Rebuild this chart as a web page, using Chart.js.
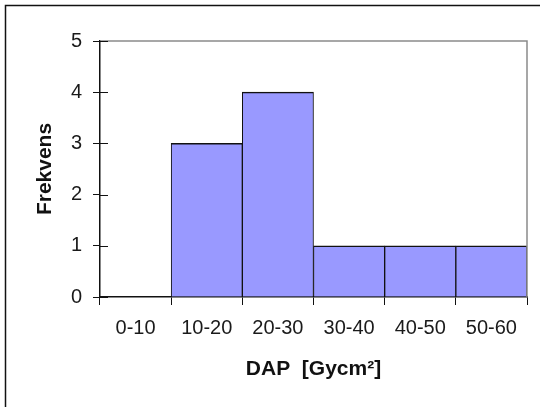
<!DOCTYPE html>
<html>
<head>
<meta charset="utf-8">
<script src="https://cdn.jsdelivr.net/npm/chart.js@4/dist/chart.umd.min.js"></script>
<style>
  html, body { margin: 0; padding: 0; background: #fff; }
  #wrap { width: 540px; height: 407px; position: relative; }
</style>
</head>
<body>
<div id="wrap"><canvas id="chart"></canvas></div>
<script>
// histogram data
const categories = ['0-10', '10-20', '20-30', '30-40', '40-50', '50-60'];
const counts = [0, 3, 4, 1, 1, 1];
const yMin = 0, yMax = 5, yStep = 1;

const xTitle = 'DAP  [Gycm\u00B2]';
const yTitle = 'Frekvens';

const tickFont = { family: 'Liberation Sans, Arial, sans-serif', size: 20 };
const titleFont = { family: 'Liberation Sans, Arial, sans-serif', size: 21, weight: 'bold' };

// frame around the whole picture + grey plot border + inner y ticks
const framePlugin = {
  id: 'frame',
  beforeDraw(chart) {
    const ctx = chart.ctx;
    ctx.save();
    ctx.strokeStyle = '#111';
    ctx.lineWidth = 1.5;
    ctx.beginPath();
    ctx.moveTo(5.5, 420);
    ctx.lineTo(5.5, 5.5);
    ctx.lineTo(560, 5.5);
    ctx.stroke();
    ctx.restore();
  },
  afterDatasetsDraw(chart) {
    const { ctx, chartArea: a } = chart;
    ctx.save();
    ctx.strokeStyle = '#8a8a8a';
    ctx.lineWidth = 1.5;
    ctx.beginPath();
    ctx.moveTo(a.left, a.top);
    ctx.lineTo(a.right, a.top);
    ctx.lineTo(a.right, a.bottom);
    ctx.stroke();

    const y = chart.scales.y;
    ctx.strokeStyle = '#111';
    ctx.lineWidth = 1;
    y.ticks.forEach(t => {
      const py = Math.round(y.getPixelForValue(t.value)) + 0.5;
      ctx.beginPath();
      ctx.moveTo(a.left, py);
      ctx.lineTo(a.left + 8, py);
      ctx.stroke();
    });
    ctx.restore();
  }
};

new Chart(document.getElementById('chart'), {
  type: 'bar',
  data: {
    labels: categories,
    datasets: [{
      data: counts,
      backgroundColor: '#9999ff',
      borderColor: '#111',
      borderWidth: { top: 1.5, left: 1, right: 1, bottom: 0 },
      borderSkipped: false,
      barPercentage: 1,
      categoryPercentage: 1
    }]
  },
  options: {
    responsive: true,
    maintainAspectRatio: false,
    animation: false,
    layout: { padding: { top: 41, right: 13, bottom: 0, left: 0 } },
    plugins: { legend: { display: false }, tooltip: { enabled: false } },
    scales: {
      x: {
        offset: true,
        grid: { offset: true, drawOnChartArea: false, drawTicks: true, tickLength: 8, color: '#111', lineWidth: 1 },
        border: { color: '#111', width: 1.5 },
        ticks: { font: tickFont, color: '#1a1a1a', padding: 11, maxRotation: 0, autoSkip: false },
        title: { display: true, text: xTitle, font: titleFont, color: '#111', padding: { top: 0, bottom: 25 } },
        afterFit(scale) { scale.height = 110; }
      },
      y: {
        min: yMin,
        max: yMax,
        grid: { drawOnChartArea: false, drawTicks: true, tickLength: 7, color: '#111', lineWidth: 1 },
        border: { color: '#111', width: 1.5 },
        ticks: { stepSize: yStep, font: tickFont, color: '#1a1a1a', padding: 11 },
        title: { display: true, text: yTitle, font: titleFont, color: '#111', padding: { top: 33, bottom: 0 } },
        afterFit(scale) { scale.width = 100; }
      }
    }
  },
  plugins: [framePlugin]
});
</script>
</body>
</html>
